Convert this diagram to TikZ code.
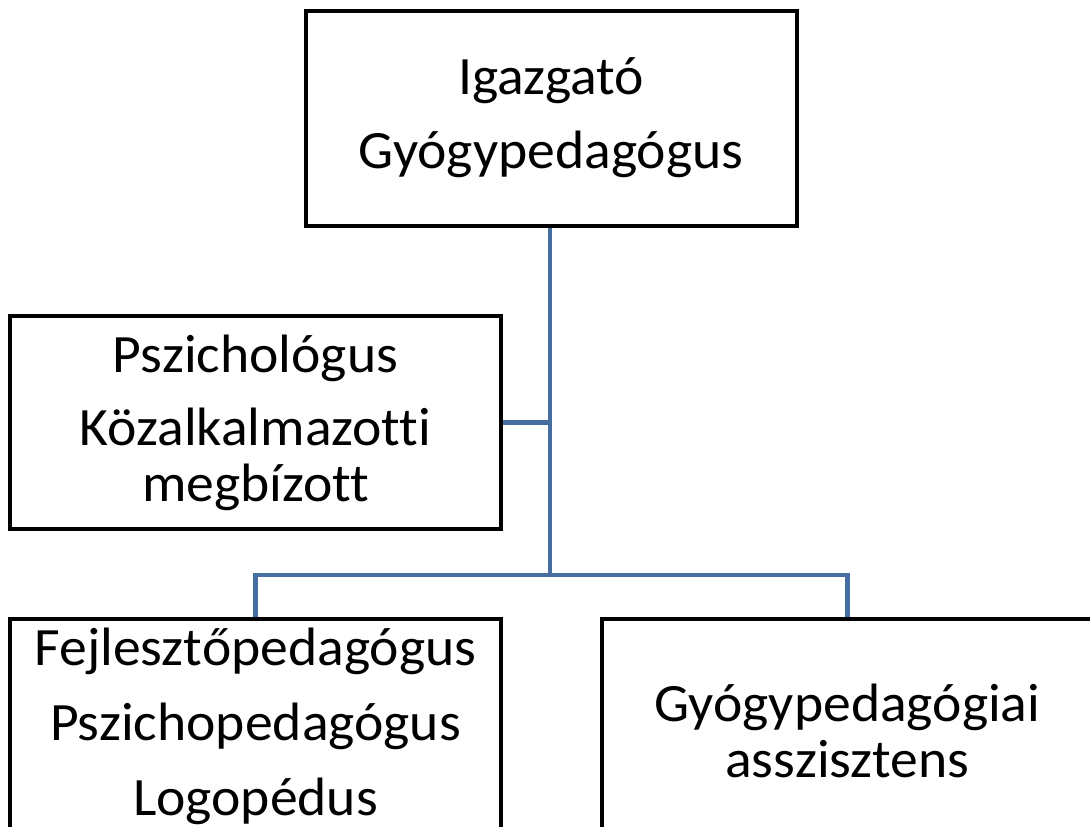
\documentclass[tikz,border=0pt]{standalone}
\usepackage{fontspec}
\setmainfont{Carlito}[FakeStretch=1.03,Ligatures=NoCommon]
\usetikzlibrary{backgrounds}
\definecolor{linkblue}{RGB}{70,110,160}

\begin{document}
\begin{tikzpicture}[x=1pt,y=-1pt,
  box/.style={draw=black,line width=4pt,minimum width=491pt,minimum height=215pt,
    align=center,inner sep=0pt,font=\fontsize{54}{56}\selectfont},
  link/.style={draw=linkblue,line width=4.5pt}]
  \clip (0,0) rectangle (1090,827);
  \node[box] (igazgato) at (551,118) {Igazgató\\[18pt]Gyógypedagógus};
  \node[box,minimum height=213pt] (pszich) at (255.5,422.5)
     {Pszichológus\\[17pt]Közalkalmazotti\\megbízott};
  \node[box] (fejl) at (255.5,726)
     {Fejlesztőpedagógus\\[19pt]Pszichopedagógus\\[19pt]Logopédus};
  \node[box,minimum height=225pt] (asszisztens) at (847.5,731) {Gyógypedagógiai\\asszisztens};
  \coordinate (elag) at (550,575);
  \begin{scope}[on background layer]
  \draw[link] (igazgato.south -| elag) -- (elag);
  \draw[link] (pszich.east) -- (pszich.east -| elag);
  \draw[link] (fejl.north) |- (elag) -| (asszisztens.north);
  \end{scope}
\end{tikzpicture}
\end{document}
